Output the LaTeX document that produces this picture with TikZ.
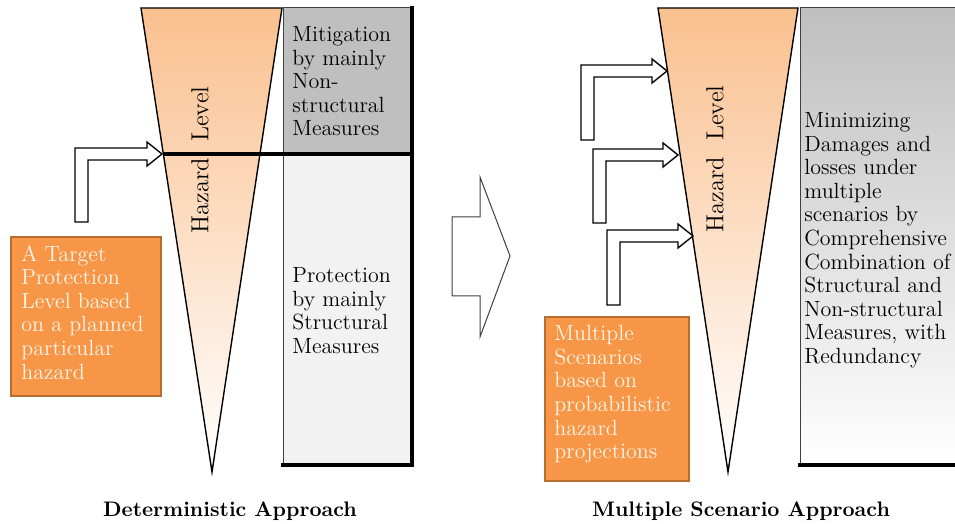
\documentclass[tikz,border=0pt]{standalone}
\usepackage{tikz}
\usetikzlibrary{calc}
\definecolor{HazardOrange}{HTML}{FAC08F}
\definecolor{LevelGray}{HTML}{BFBFBF}
\definecolor{LevelLight}{HTML}{F2F2F2}
\definecolor{ScenarioOrange}{HTML}{F79646}
\definecolor{ScenarioEdge}{HTML}{B66D31}
\definecolor{ScenarioText}{HTML}{FFF6EA}
\tikzset{
  bodytext/.style={font=\fontsize{11}{11.8}\selectfont, align=left, inner sep=0pt, anchor=north west},
  lighttext/.style={bodytext, text=ScenarioText},
  titletext/.style={font=\fontsize{10.5}{12}\selectfont\bfseries, inner sep=0pt},
  hazardtext/.style={font=\fontsize{12.3}{13}\selectfont, rotate=90, inner sep=0pt},
  scenariobox/.style={fill=ScenarioOrange, draw=ScenarioEdge, line width=1pt},
  bentarrow/.style={draw=black, fill=white, line width=0.7pt, line join=miter},
  bigarrow/.style={draw=black!75, fill=white, line width=0.5pt, line join=miter},
  edge/.style={draw=black!75, line width=0.5pt},
  shadowedge/.style={line width=1.8pt, line cap=rect}
}

\begin{document}
\begin{tikzpicture}[x=0.5pt,y=-0.5pt]
    \useasboundingbox (0,0) rectangle (955,524);
    % hazard cones
    \foreach \side/\xa/\xb/\xc in {L/141/282/212,R/658/798/728} {
     \coordinate (\side A) at (\xa,8);
     \coordinate (\side B) at (\xb,8);
     \coordinate (\side C) at (\xc,472);
     \shade[top color=HazardOrange, bottom color=white] (\side A) -- (\side B) -- (\side C) -- cycle;
     \draw[line width=0.7pt] (\side A) -- (\side B) -- (\side C) -- cycle;
    }
    % deterministic measures
    \fill[LevelGray] (283,8) rectangle (412,154);
    \fill[LevelLight] (283,154) rectangle (412,465);
    \draw[edge] (412,8) -- (283,8) -- (283,465);
    \draw[shadowedge] (283,465) -- (412,465) -- (412,8);
    \coordinate (level) at ($(LA)!0.3147!(LC)$);
    \draw[line width=1.8pt] (level) -- (412,154);
    % multiple scenario measures
    \shade[top color=LevelGray, bottom color=white] (800,8) rectangle (955,465);
    \draw[edge] (955,8) -- (800,8) -- (800,465);
    \draw[shadowedge] (800,465) -- (955,465);
    % bent arrows
    \foreach \xs/\yb/\yc/\xt in {75/222/154/162,581/140/71/667,593/223/155/678,607/305/236/693} {
     \draw[bentarrow] (\xs,\yb) -- (\xs,{\yc-6}) -- ({\xt-15},{\yc-6}) -- ({\xt-15},{\yc-12})
       -- (\xt,\yc) -- ({\xt-15},{\yc+12}) -- ({\xt-15},{\yc+6}) -- ({\xs+13},{\yc+6}) -- ({\xs+13},\yb) -- cycle;
    }
    \draw[bigarrow] (452,217) -- (480,217) -- (480,177) -- (510,256) -- (480,337) -- (480,296) -- (452,296) -- cycle;
    % scenario boxes
    \draw[scenariobox] (11,237) rectangle (161,396);
    \draw[scenariobox] (545,317) rectangle (689,481);
    \node[lighttext] (target) at (21,245) {A Target\\Protection\\Level based\\on a planned\\particular\\hazard};
    \node[lighttext] (scenarios) at (554,325) {Multiple\\Scenarios\\based on\\probabilistic\\hazard\\projections};
    % labels
    \node[hazardtext] (hazardL) at (200,160) {Hazard\ \ Level};
    \node[hazardtext] (hazardR) at (715,159) {Hazard\ \ Level};
    \node[bodytext] (mitigation) at (292,26) {Mitigation\\by mainly\\Non-\\structural\\Measures};
    \node[bodytext] (protection) at (292,267) {Protection\\by mainly\\Structural\\Measures};
    \node[bodytext] (minimizing) at (804,112) {Minimizing\\Damages and\\losses under\\multiple\\scenarios by\\Comprehensive\\Combination of\\Structural and\\Non-structural\\Measures, with\\Redundancy};
    \node[titletext] (detTitle) at (230,511) {Deterministic Approach};
    \node[titletext] (multiTitle) at (741,511) {Multiple Scenario Approach};
\end{tikzpicture}
\end{document}
